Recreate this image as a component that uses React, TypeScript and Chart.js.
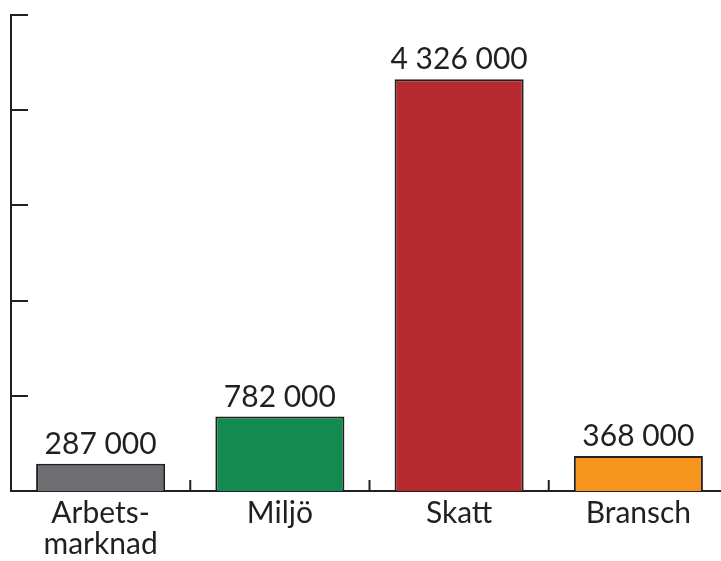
import React, { useEffect, useRef } from "react";
import { Chart, registerables } from "chart.js";

Chart.register(...registerables);

const categories: (string | string[])[] = [["Arbets-", "marknad"], "Miljö", "Skatt", "Bransch"];
const values: number[] = [287000, 782000, 4326000, 368000];
const barColors: string[] = ["#6d6e71", "#138a50", "#b5292f", "#f7941e"];
const yMax = 5000000;
const yStep = 1000000;

const FONT = "Lato, 'Open Sans', sans-serif";
const INK = "#231f20";

function fmt(v: number): string {
  return String(v).replace(/\B(?=(\d{3})+(?!\d))/g, " ");
}

const decorPlugin = {
  id: "decor",
  afterDatasetsDraw(chart: any) {
    const ctx = chart.ctx;
    const y = chart.scales.y;
    const x = chart.scales.x;
    const area = chart.chartArea;
    ctx.save();
    ctx.strokeStyle = INK;
    ctx.lineWidth = 2;
    for (let v = yStep; v <= yMax; v += yStep) {
      const py = Math.round(y.getPixelForValue(v));
      ctx.beginPath();
      ctx.moveTo(area.left, py);
      ctx.lineTo(area.left + 17, py);
      ctx.stroke();
    }
    for (let i = 1; i < categories.length; i++) {
      const px = (x.getPixelForValue(i - 1) + x.getPixelForValue(i)) / 2;
      ctx.beginPath();
      ctx.moveTo(px, area.bottom);
      ctx.lineTo(px, area.bottom - 11);
      ctx.stroke();
    }
    const meta = chart.getDatasetMeta(0);
    ctx.fillStyle = INK;
    ctx.font = `30px ${FONT}`;
    ctx.textAlign = "center";
    ctx.textBaseline = "alphabetic";
    meta.data.forEach((bar: any, i: number) => {
      ctx.fillText(fmt(values[i]), bar.x, bar.y - 10);
    });
    ctx.restore();
  },
};

export default function App() {
  const ref = useRef<HTMLCanvasElement | null>(null);
  useEffect(() => {
    if (!ref.current) return;
    const chart = new Chart(ref.current, {
      type: "bar",
      data: {
        labels: categories,
        datasets: [
          {
            data: values,
            backgroundColor: barColors,
            borderColor: INK,
            borderWidth: 2,
            borderSkipped: "bottom",
            barPercentage: 0.72,
            categoryPercentage: 1,
          },
        ],
      },
      options: {
        animation: false,
        responsive: true,
        maintainAspectRatio: false,
        layout: { padding: { left: 10, top: 15, right: 2, bottom: 0 } },
        plugins: { legend: { display: false }, tooltip: { enabled: false } },
        scales: {
          x: {
            grid: { display: false, drawTicks: false },
            border: { display: true, color: INK, width: 2 },
            ticks: {
              color: INK,
              font: { family: FONT, size: 30, lineHeight: 1.02 },
              padding: 7,
              maxRotation: 0,
              autoSkip: false,
            },
            afterFit: (s: any) => {
              s.height = 70;
            },
          },
          y: {
            min: 0,
            max: yMax,
            grid: { display: false, drawTicks: false },
            border: { display: true, color: INK, width: 2 },
            ticks: { display: false, stepSize: yStep },
            afterFit: (s: any) => {
              s.width = 1;
            },
          },
        },
      },
      plugins: [decorPlugin],
    });
    return () => chart.destroy();
  }, []);
  return (
    <div style={{ position: "fixed", left: 0, top: 0, width: 721, height: 561, overflow: "hidden", background: "#fff" }}>
      <div style={{ position: "relative", width: 730, height: 561 }}>
        <canvas ref={ref} />
      </div>
    </div>
  );
}
